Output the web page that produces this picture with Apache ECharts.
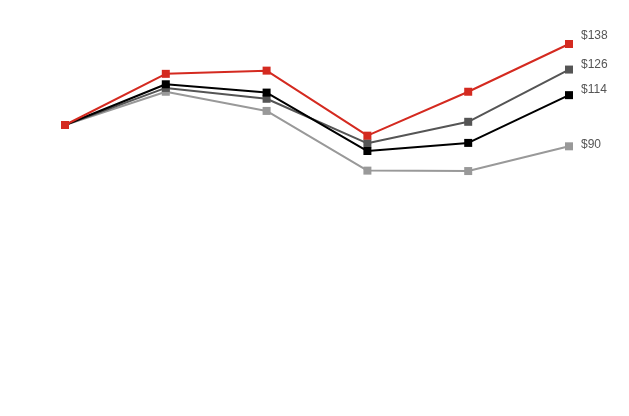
<!DOCTYPE html>
<html>
<head>
<meta charset="utf-8">
<script src="https://cdn.jsdelivr.net/npm/echarts@6/dist/echarts.min.js"></script>
<style>html,body{margin:0;padding:0;background:#fff;}#c{width:629px;height:416px;}</style>
</head>
<body>
<div id="c"></div>
<script>
var categories = ['P0', 'P1', 'P2', 'P3', 'P4', 'P5'];
var seriesRed = [100, 124, 125.5, 95, 115.6, 138];
var seriesDarkGray = [100, 117.4, 112.3, 91.4, 101.5, 126];
var seriesBlack = [100, 119.1, 115.2, 87.8, 91.6, 114];
var seriesLightGray = [100, 115.6, 106.6, 78.6, 78.4, 90];

function mk(name, data, color, dy, z) {
  var last = data.length - 1;
  return {
    name: name, type: 'line', data: data, z: z,
    symbol: 'rect', symbolSize: 8, showAllSymbol: true,
    lineStyle: { color: color, width: 2 },
    itemStyle: { color: color },
    label: {
      show: true, position: 'right', distance: 8, offset: [0, dy],
      color: '#555', fontSize: 12, fontFamily: 'Liberation Sans, Arial, sans-serif',
      formatter: function (p) { return p.dataIndex === last ? '$' + Math.round(p.value) : ''; }
    },
    emphasis: { disabled: true },
    animation: false
  };
}

var chart = echarts.init(document.getElementById('c'), null, { renderer: 'canvas' });
chart.setOption({
  animation: false,
  grid: { left: 65, right: 60, top: 18.4, bottom: 77.8 },
  xAxis: { type: 'category', data: categories, boundaryGap: false, show: false },
  yAxis: { type: 'value', min: 0, max: 150, show: false },
  series: [
    mk('Light gray', seriesLightGray, '#999999', -1.5, 1),
    mk('Dark gray', seriesDarkGray, '#555555', -4.5, 2),
    mk('Black', seriesBlack, '#000000', -5.5, 3),
    mk('Red', seriesRed, '#d42a20', -8.5, 4)
  ]
});
</script>
</body>
</html>
